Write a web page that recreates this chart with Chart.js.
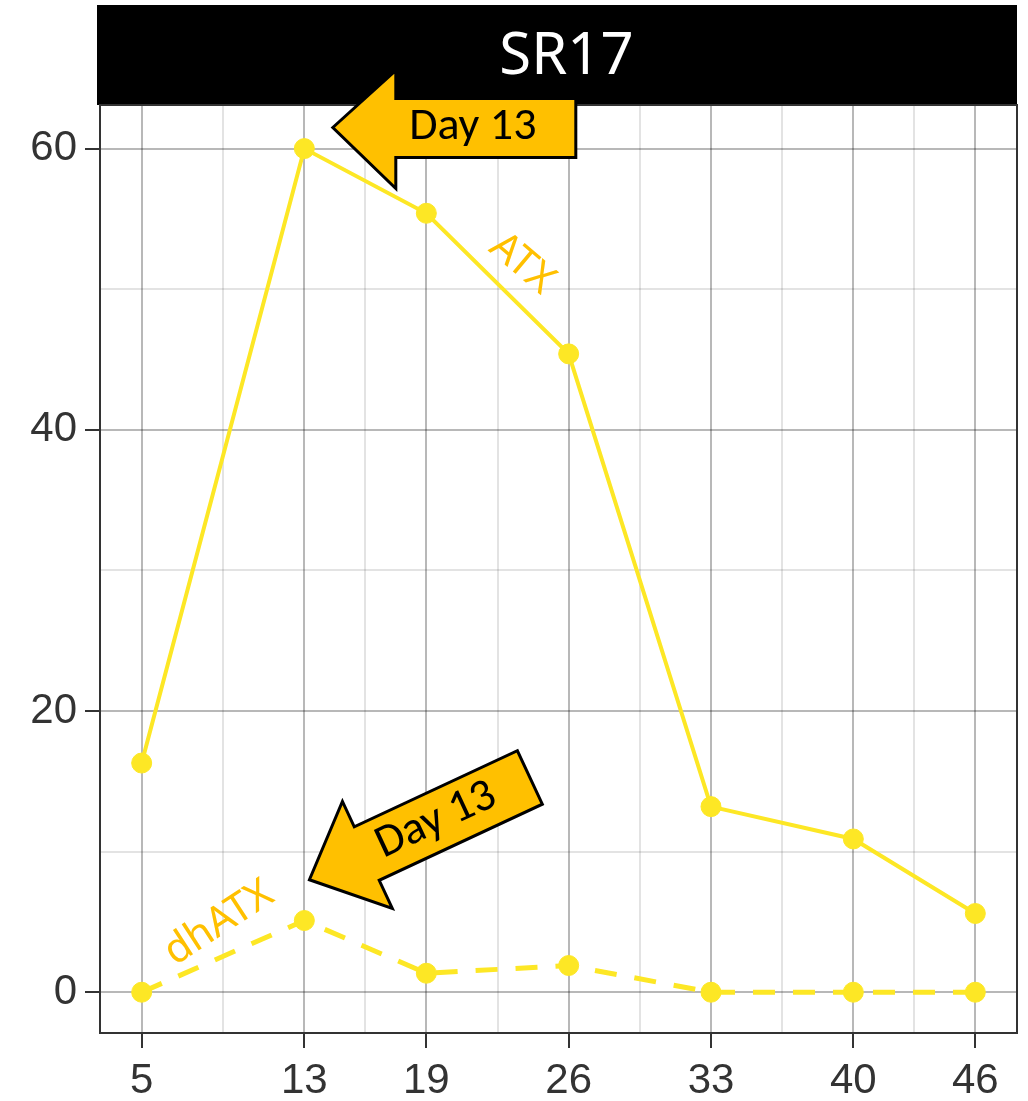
<!DOCTYPE html>
<html>
<head>
<meta charset="utf-8">
<script src="https://cdn.jsdelivr.net/npm/chart.js@4"></script>
<style>
  body { margin: 0; background: #fff; }
  canvas { display: block; }
</style>
</head>
<body>
<canvas id="myCanvas" width="1028" height="1101"></canvas>
<script>
// sampling days and toxin levels
const days = [5, 13, 19, 26, 33, 40, 46];
const atx = [16.3, 60, 55.4, 45.4, 13.2, 10.9, 5.6];
const dhatx = [0, 5.1, 1.35, 1.9, 0, 0, 0];
const yTicks = [0, 20, 40, 60];
const xMinor = [9, 16, 22.5, 29.5, 36.5, 43];
const yMinor = [10, 30, 50];

const panelTitle = "SR17";
const arrowText = "Day 13";
const lineColor = "#FDE725";
const gold = "#FFC000";

// callouts, positioned in data units
const arrows = [
    { x: 14.4, y: 61.5, angle: 0 },
    { x: 13.25, y: 8.0, angle: -25 },
];
const seriesLabels = [
    { text: "ATX", x: 23.7, y: 51.8, angle: 40 },
    { text: "dhATX", x: 8.8, y: 4.9, angle: -33 },
];

function pairs(ys) {
    return days.map((d, i) => ({ x: d, y: ys[i] }));
}

function drawArrow(ctx, px, py, angle) {
    ctx.save();
    ctx.translate(px, py);
    ctx.rotate(angle * Math.PI / 180);
    ctx.beginPath();
    ctx.moveTo(0, 0);
    ctx.lineTo(63, -57);
    ctx.lineTo(63, -29);
    ctx.lineTo(243, -29);
    ctx.lineTo(243, 30);
    ctx.lineTo(63, 30);
    ctx.lineTo(63, 61);
    ctx.closePath();
    ctx.fillStyle = gold;
    ctx.fill();
    ctx.lineWidth = 3;
    ctx.lineJoin = "miter";
    ctx.strokeStyle = "#000";
    ctx.stroke();
    ctx.fillStyle = "#000";
    ctx.font = '46px Carlito, "Liberation Sans Narrow", sans-serif';
    ctx.textAlign = "center";
    ctx.textBaseline = "middle";
    ctx.fillText(arrowText, 140, 0);
    ctx.restore();
}

const panelDecor = {
    id: "panelDecor",
    beforeDraw(chart) {
        const ctx = chart.ctx;
        const a = chart.chartArea;
        ctx.save();
        ctx.fillStyle = "#000";
        ctx.fillRect(a.left - 3, 5, a.right - a.left + 3, a.top - 5);
        ctx.fillStyle = "#fff";
        ctx.font = '58px "Noto Sans", sans-serif';
        ctx.textAlign = "center";
        ctx.textBaseline = "middle";
        ctx.fillText(panelTitle, (a.left + a.right) / 2 + 8, 57);
        ctx.restore();
    },
    afterDatasetsDraw(chart) {
        const ctx = chart.ctx;
        const xs = chart.scales.x;
        const ys = chart.scales.y;
        ctx.save();
        ctx.fillStyle = gold;
        ctx.font = '41px "Noto Sans", sans-serif';
        ctx.textAlign = "center";
        ctx.textBaseline = "middle";
        seriesLabels.forEach(l => {
            ctx.save();
            ctx.translate(xs.getPixelForValue(l.x), ys.getPixelForValue(l.y));
            ctx.rotate(l.angle * Math.PI / 180);
            ctx.fillText(l.text, 0, 0);
            ctx.restore();
        });
        ctx.restore();
    },
    afterDraw(chart) {
        const ctx = chart.ctx;
        const a = chart.chartArea;
        const xs = chart.scales.x;
        const ys = chart.scales.y;
        // panel frame
        ctx.save();
        ctx.strokeStyle = "#333";
        ctx.lineWidth = 2;
        ctx.strokeRect(a.left, a.top, a.right - a.left, a.bottom - a.top);
        ctx.restore();
        arrows.forEach(ar => {
            drawArrow(ctx, xs.getPixelForValue(ar.x), ys.getPixelForValue(ar.y), ar.angle);
        });
    }
};

const tickFont = { family: '"Liberation Sans", Arial, sans-serif', size: 42 };

new Chart(document.getElementById("myCanvas").getContext("2d"), {
    type: "line",
    data: {
        datasets: [
            {
                label: "ATX",
                data: pairs(atx),
                borderColor: lineColor,
                backgroundColor: lineColor,
                borderWidth: 4,
                pointRadius: 10,
                pointBorderWidth: 1,
                tension: 0,
            },
            {
                label: "dhATX",
                data: pairs(dhatx),
                borderColor: lineColor,
                backgroundColor: lineColor,
                borderWidth: 5,
                borderDash: [22, 18],
                pointRadius: 10,
                pointBorderWidth: 1,
                tension: 0,
            },
        ],
    },
    options: {
        responsive: false,
        animation: false,
        layout: { padding: { top: 105, right: 11, left: 0, bottom: 0 } },
        plugins: {
            legend: { display: false },
            tooltip: { enabled: false },
        },
        scales: {
            x: {
                type: "linear",
                min: 2.95,
                max: 48.05,
                afterBuildTicks(scale) {
                    scale.ticks = days.concat(xMinor).sort((p, q) => p - q).map(v => ({ value: v }));
                },
                afterFit(scale) { scale.height = 68; },
                ticks: {
                    autoSkip: false,
                    maxRotation: 0,
                    padding: 8,
                    color: "#333",
                    font: tickFont,
                    callback: v => days.includes(v) ? String(v) : "",
                },
                grid: {
                    lineWidth: 2,
                    tickLength: 15,
                    color: c => c.tick && days.includes(c.tick.value) ? "rgba(0,0,0,0.28)" : "rgba(0,0,0,0.11)",
                    tickColor: c => c.tick && days.includes(c.tick.value) ? "#333" : "rgba(0,0,0,0)",
                },
                border: { color: "#333", width: 2 },
            },
            y: {
                min: -2.9,
                max: 63.1,
                afterBuildTicks(scale) {
                    scale.ticks = yTicks.concat(yMinor).sort((p, q) => p - q).map(v => ({ value: v }));
                },
                afterFit(scale) { scale.width = 100; },
                ticks: {
                    autoSkip: false,
                    padding: 8,
                    color: "#333",
                    font: tickFont,
                    callback: v => yTicks.includes(v) ? String(v) : "",
                },
                grid: {
                    lineWidth: 2,
                    tickLength: 15,
                    color: c => c.tick && yTicks.includes(c.tick.value) ? "rgba(0,0,0,0.28)" : "rgba(0,0,0,0.11)",
                    tickColor: c => c.tick && yTicks.includes(c.tick.value) ? "#333" : "rgba(0,0,0,0)",
                },
                border: { color: "#333", width: 2 },
            },
        },
    },
    plugins: [panelDecor],
});
</script>
</body>
</html>
